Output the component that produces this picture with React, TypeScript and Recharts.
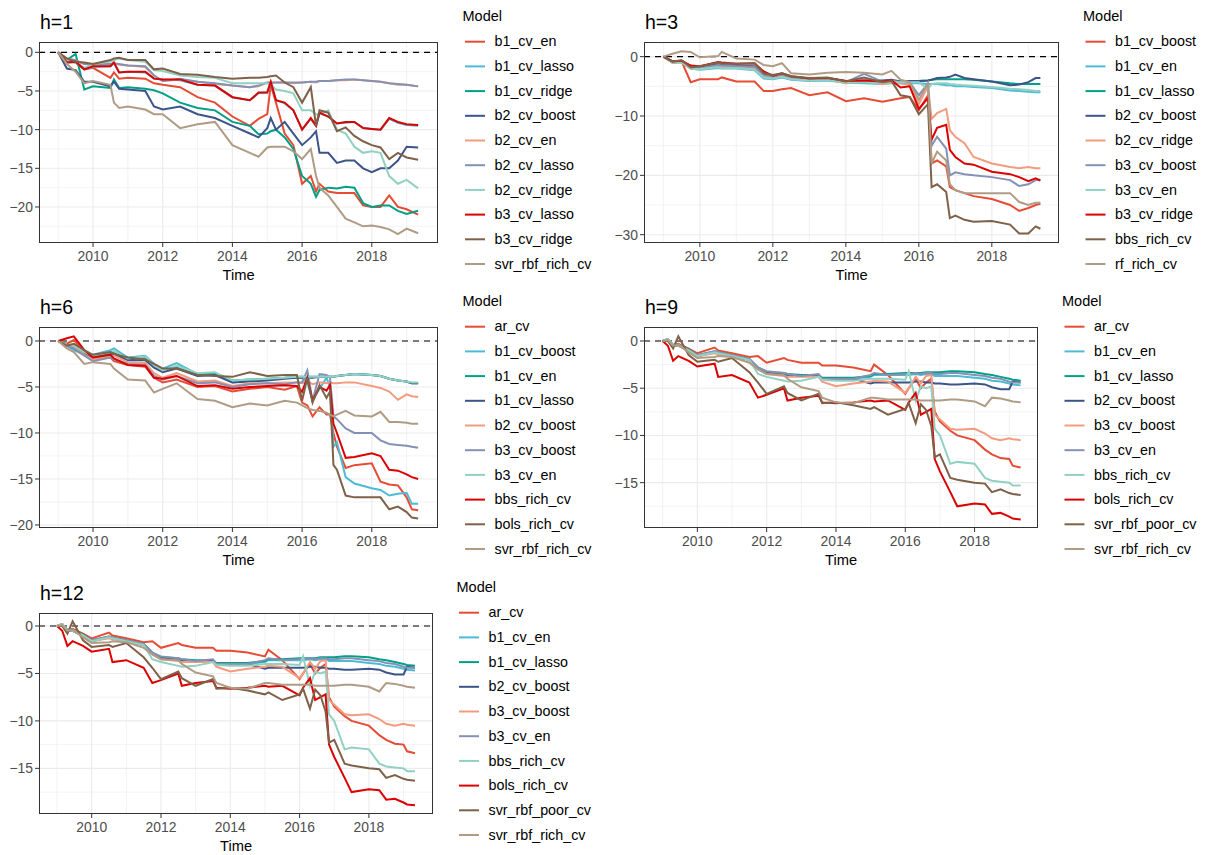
import { LineChart, Line, XAxis, YAxis, CartesianGrid, ReferenceLine } from "recharts";

const FONT = '"Liberation Sans", Arial, Helvetica, sans-serif';

// ggsci npg palette, legend order
const PALETTE = ["#E64B35", "#4DBBD5", "#00A087", "#3C5488", "#F39B7F", "#8491B4", "#91D1C2", "#DC0000", "#7E6148", "#B09C85"];

const X_TICKS = [2010, 2012, 2014, 2016, 2018];
const X_MINOR = [2009, 2011, 2013, 2015, 2017, 2019];

// ---------- h=1 ----------
const h1Times = [2009.0, 2009.25, 2009.5, 2009.75, 2010.0, 2010.5, 2010.6, 2010.75, 2011.0, 2011.5, 2011.75, 2012.0, 2012.5, 2013.0, 2013.5, 2014.0, 2014.5, 2014.75, 2015.0, 2015.1, 2015.25, 2015.5, 2015.75, 2016.0, 2016.25, 2016.4, 2016.5, 2016.75, 2017.0, 2017.25, 2017.5, 2017.75, 2018.0, 2018.25, 2018.5, 2018.75, 2019.0, 2019.33];
const h1Models = ["b1_cv_en", "b1_cv_lasso", "b1_cv_ridge", "b2_cv_boost", "b2_cv_en", "b2_cv_lasso", "b2_cv_ridge", "b3_cv_lasso", "b3_cv_ridge", "svr_rbf_rich_cv"];
const h1_b1_cv_en = [0, -1.0, -1.3, -2.2, -2.0, -3.3, -2.6, -3.4, -3.3, -3.4, -4.0, -4.2, -4.5, -5.8, -6.5, -8.3, -9.5, -8.6, -8.0, -4.2, -6.5, -10.5, -12.0, -17.0, -16.0, -18.0, -17.0, -18.0, -18.2, -18.2, -18.2, -19.8, -20.0, -20.0, -18.5, -20.0, -20.3, -21.0];
const h1_b1_cv_lasso = [0, -1.3, -1.3, -2.2, -1.9, -1.8, -1.4, -2.6, -2.5, -2.6, -3.4, -3.5, -3.6, -4.2, -4.3, -5.8, -6.2, -5.3, -5.2, -3.9, -6.2, -6.6, -7.5, -10.0, -8.6, -9.5, -7.9, -8.3, -9.2, -9.1, -9.0, -9.8, -9.9, -10.0, -8.6, -9.1, -9.4, -9.5];
const h1_b1_cv_ridge = [0, -1.0, -0.2, -4.8, -4.4, -4.6, -3.5, -4.6, -4.5, -4.7, -4.9, -5.3, -6.5, -7.2, -7.5, -9.0, -9.5, -10.6, -10.5, -10.2, -10.0, -11.0, -12.5, -16.0, -17.0, -18.7, -17.8, -17.5, -17.6, -17.4, -17.5, -19.5, -20.0, -19.8, -19.8, -20.5, -20.9, -20.5];
const h1_b2_cv_boost = [0, -2.1, -2.3, -3.8, -3.8, -4.4, -3.8, -4.7, -4.8, -5.0, -7.0, -7.4, -7.0, -8.0, -8.5, -9.5, -10.5, -11.0, -9.8, -8.5, -10.0, -9.0, -10.5, -12.0, -11.0, -10.2, -13.0, -13.0, -14.3, -14.0, -14.0, -15.0, -15.5, -15.0, -15.0, -14.0, -12.2, -12.3];
const h1_b2_cv_en = [0, -0.9, -1.1, -1.5, -1.6, -1.5, -1.4, -1.6, -1.7, -1.9, -3.0, -3.7, -3.5, -3.8, -4.1, -4.3, -4.5, -4.4, -3.9, -4.0, -3.9, -3.9, -4.0, -3.9, -3.8, -3.9, -3.7, -3.7, -3.6, -3.6, -3.5, -3.6, -3.7, -3.8, -4.0, -4.2, -4.2, -4.4];
const h1_b2_cv_lasso = [0, -0.8, -1.0, -1.5, -1.5, -1.5, -1.4, -1.5, -1.7, -1.8, -3.0, -3.7, -3.4, -3.8, -4.0, -4.3, -4.5, -4.3, -3.9, -3.9, -3.9, -3.9, -3.9, -3.9, -3.8, -3.8, -3.7, -3.7, -3.6, -3.5, -3.5, -3.6, -3.7, -3.8, -4.0, -4.1, -4.2, -4.4];
const h1_b2_cv_ridge = [0, -1.0, -1.3, -2.0, -1.5, -1.2, -1.0, -0.8, -1.0, -1.2, -2.3, -2.4, -3.0, -3.2, -3.3, -4.0, -4.0, -4.0, -4.0, -4.2, -4.8, -5.0, -5.3, -7.5, -7.5, -8.0, -8.0, -7.5, -10.0, -10.5, -12.2, -13.0, -12.8, -13.0, -16.0, -17.0, -16.5, -17.6];
const h1_b3_cv_lasso = [0, -1.3, -1.2, -2.2, -1.8, -1.8, -1.3, -2.6, -2.5, -2.5, -3.4, -3.5, -3.5, -4.2, -4.3, -5.8, -6.2, -5.2, -5.2, -3.8, -6.2, -6.5, -7.5, -10.0, -8.5, -9.5, -7.8, -8.3, -9.2, -9.0, -9.0, -9.8, -9.9, -10.0, -8.5, -9.0, -9.3, -9.4];
const h1_b3_cv_ridge = [0, -0.8, -1.2, -1.3, -1.5, -1.0, -0.8, -0.7, -1.0, -1.0, -2.2, -2.1, -2.8, -2.9, -3.2, -3.4, -3.3, -3.3, -3.2, -3.1, -3.0, -3.9, -4.5, -6.5, -4.5, -9.5, -7.5, -7.8, -10.2, -9.7, -10.8, -11.5, -12.0, -12.3, -13.8, -13.0, -13.6, -13.9];
const h1_svr_rbf_rich_cv = [0, -1.5, -2.5, -4.0, -3.7, -4.2, -6.5, -7.2, -7.0, -7.4, -8.0, -8.0, -9.8, -9.3, -9.0, -12.0, -13.0, -13.5, -12.3, -12.2, -12.2, -12.2, -12.8, -13.8, -12.5, -16.0, -17.5, -18.5, -20.0, -21.5, -22.0, -22.5, -22.4, -22.6, -22.9, -23.5, -22.8, -23.4];

// ---------- h=3 ----------
const h3Times = [2009.0, 2009.25, 2009.5, 2009.75, 2010.0, 2010.5, 2010.6, 2011.0, 2011.5, 2011.75, 2012.0, 2012.25, 2012.5, 2013.0, 2013.5, 2014.0, 2014.5, 2015.0, 2015.25, 2015.5, 2015.75, 2016.0, 2016.25, 2016.35, 2016.5, 2016.75, 2016.85, 2017.0, 2017.25, 2017.5, 2018.0, 2018.5, 2018.75, 2019.0, 2019.2, 2019.33];
const h3Models = ["b1_cv_boost", "b1_cv_en", "b1_cv_lasso", "b2_cv_boost", "b2_cv_ridge", "b3_cv_boost", "b3_cv_en", "b3_cv_ridge", "bbs_rich_cv", "rf_rich_cv"];
const h3_b1_cv_boost = [0, -1.0, -0.8, -4.3, -3.8, -3.8, -3.5, -4.2, -4.2, -5.8, -5.8, -5.5, -5.3, -6.5, -6.0, -7.5, -7.0, -7.6, -7.3, -7.0, -6.8, -9.0, -6.5, -18.0, -17.5, -18.5, -22.0, -22.5, -23.0, -23.5, -24.0, -25.0, -26.0, -25.5, -25.0, -24.8];
const h3_b1_cv_en = [0, -1.0, -1.0, -2.0, -2.2, -1.9, -2.0, -2.0, -2.3, -3.7, -3.8, -3.5, -3.9, -4.1, -4.0, -4.4, -4.5, -4.6, -4.5, -4.5, -4.5, -4.5, -4.6, -4.6, -4.6, -4.8, -4.8, -5.0, -5.0, -5.1, -5.3, -5.7, -5.8, -5.9, -6.0, -6.0];
const h3_b1_cv_lasso = [0, -0.9, -0.8, -1.8, -2.0, -1.7, -1.8, -1.8, -2.0, -3.3, -3.5, -3.2, -3.6, -3.9, -3.8, -4.2, -4.1, -4.2, -4.1, -4.1, -4.1, -4.1, -4.0, -3.9, -3.8, -3.8, -3.8, -3.8, -3.8, -3.9, -4.2, -4.5, -4.6, -4.6, -4.6, -4.6];
const h3_b2_cv_boost = [0, -0.8, -0.7, -1.6, -1.8, -1.3, -1.4, -1.5, -1.6, -3.0, -3.3, -3.0, -3.4, -3.7, -3.6, -4.1, -4.0, -4.0, -3.9, -4.2, -4.1, -4.1, -4.0, -3.9, -3.6, -3.5, -3.4, -3.0, -3.6, -3.8, -4.2, -4.8, -4.7, -4.3, -3.6, -3.6];
const h3_b2_cv_ridge = [0, -1.0, -1.0, -2.0, -2.0, -1.6, -1.6, -1.8, -2.0, -3.3, -3.5, -3.2, -3.6, -3.9, -3.8, -4.5, -4.2, -4.6, -4.4, -4.5, -4.8, -8.0, -5.0, -10.5, -9.5, -8.8, -12.4, -13.5, -14.6, -16.9, -18.0, -18.6, -18.8, -18.6, -18.8, -18.8];
const h3_b3_cv_boost = [0, -0.8, -0.7, -1.7, -1.9, -1.4, -1.5, -1.6, -1.7, -3.1, -3.4, -3.1, -3.5, -3.8, -3.7, -4.3, -2.9, -4.2, -4.0, -4.3, -4.3, -6.5, -4.5, -15.0, -13.5, -15.5, -20.0, -19.5, -19.8, -20.0, -20.3, -20.8, -21.8, -21.5, -20.8, -20.7];
const h3_b3_cv_en = [0, -1.0, -0.9, -1.9, -2.1, -1.8, -1.9, -1.9, -2.2, -3.5, -3.7, -3.4, -3.8, -4.0, -3.9, -4.3, -4.3, -4.4, -4.3, -4.3, -4.3, -4.3, -5.5, -4.6, -4.5, -4.5, -4.6, -4.7, -4.8, -4.9, -5.1, -5.4, -5.5, -5.6, -5.8, -5.8];
const h3_b3_cv_ridge = [0, -0.8, -0.7, -1.5, -1.6, -0.9, -1.0, -1.2, -1.1, -2.5, -3.2, -2.8, -3.3, -3.7, -3.6, -4.1, -4.0, -4.2, -4.0, -5.2, -5.0, -8.8, -7.0, -14.0, -12.0, -11.5, -15.7, -16.9, -18.0, -18.2, -19.4, -19.8, -20.3, -21.0, -20.5, -20.9];
const h3_bbs_rich_cv = [0, -0.8, -0.6, -1.8, -1.6, -1.0, -1.1, -1.2, -1.1, -2.8, -3.1, -2.8, -3.3, -3.6, -3.5, -4.2, -3.5, -4.3, -4.1, -6.5, -6.8, -9.7, -8.0, -22.0, -21.5, -22.8, -27.2, -26.8, -27.5, -27.8, -27.7, -28.3, -29.8, -29.8, -28.6, -29.0];
const h3_rf_rich_cv = [0, 0.5, 0.9, 0.8, -0.1, 0.1, 0.8, -0.3, -0.5, -1.4, -1.6, -1.1, -2.8, -3.0, -2.7, -2.6, -2.7, -3.0, -2.4, -3.9, -4.3, -7.3, -4.5, -18.0, -16.0, -17.5, -21.5, -22.5, -23.0, -23.0, -23.0, -23.0, -24.5, -25.0, -24.6, -24.6];

// ---------- h=6 ----------
const h6Times = [2009.0, 2009.25, 2009.45, 2009.75, 2010.0, 2010.5, 2010.6, 2011.0, 2011.5, 2011.75, 2012.0, 2012.4, 2013.0, 2013.5, 2014.0, 2014.5, 2015.0, 2015.5, 2015.85, 2016.0, 2016.15, 2016.3, 2016.5, 2016.7, 2016.8, 2016.9, 2017.0, 2017.25, 2017.5, 2018.0, 2018.25, 2018.5, 2018.75, 2019.0, 2019.15, 2019.33];
const h6Models = ["ar_cv", "b1_cv_boost", "b1_cv_en", "b1_cv_lasso", "b2_cv_boost", "b3_cv_boost", "b3_cv_en", "bbs_rich_cv", "bols_rich_cv", "svr_rbf_rich_cv"];
const h6_ar_cv = [0, -0.3, 0.1, -1.2, -2.0, -1.8, -2.2, -2.6, -2.8, -4.0, -4.5, -4.2, -5.0, -4.9, -5.5, -5.2, -5.0, -5.3, -4.9, -6.7, -7.0, -8.2, -7.2, -8.0, -8.0, -10.0, -11.5, -13.8, -13.5, -13.3, -15.3, -15.6, -15.7, -17.0, -18.3, -18.4];
const h6_b1_cv_boost = [0, -0.5, -1.0, -1.5, -1.5, -1.0, -0.8, -1.8, -1.6, -2.5, -3.0, -2.4, -3.6, -3.5, -4.5, -4.3, -4.2, -4.0, -4.0, -4.0, -4.5, -6.5, -5.2, -4.0, -5.0, -11.5, -11.0, -14.8, -15.5, -16.0, -16.2, -16.8, -16.6, -16.5, -17.7, -17.7];
const h6_b1_cv_en = [0, -0.4, -0.6, -1.3, -1.7, -1.3, -1.2, -2.0, -1.8, -2.6, -3.2, -2.8, -3.6, -3.5, -4.3, -4.2, -4.1, -4.0, -3.9, -3.9, -3.9, -3.9, -3.9, -3.9, -3.9, -3.9, -3.8, -3.7, -3.6, -3.7, -3.8, -4.1, -4.3, -4.4, -4.6, -4.6];
const h6_b1_cv_lasso = [0, -0.5, -0.8, -1.5, -1.9, -1.5, -1.4, -2.1, -2.1, -2.9, -3.4, -3.0, -3.8, -3.7, -4.5, -4.4, -4.3, -4.1, -4.0, -4.0, -4.0, -4.0, -3.9, -3.9, -3.9, -3.9, -3.8, -3.7, -3.6, -3.7, -3.8, -4.1, -4.3, -4.4, -4.6, -4.6];
const h6_b2_cv_boost = [0, -0.5, -0.7, -1.5, -2.0, -1.6, -1.6, -2.3, -2.4, -3.5, -4.0, -3.5, -4.4, -4.3, -4.9, -4.6, -4.6, -4.5, -4.5, -4.6, -4.4, -4.7, -4.5, -4.6, -4.5, -4.6, -4.6, -4.5, -4.5, -4.9, -5.1, -5.5, -6.4, -5.8, -6.0, -6.1];
const h6_b3_cv_boost = [0, -0.5, -0.8, -1.6, -2.2, -1.8, -2.0, -2.5, -2.6, -3.8, -4.2, -3.8, -4.6, -4.5, -5.0, -4.7, -4.6, -4.7, -4.5, -4.5, -3.2, -6.5, -3.6, -3.7, -4.0, -8.2, -8.5, -9.5, -10.0, -10.0, -10.8, -11.2, -11.3, -11.4, -11.5, -11.6];
const h6_b3_cv_en = [0, -0.4, -0.5, -1.2, -1.6, -1.2, -1.1, -1.9, -1.7, -2.6, -3.2, -2.7, -3.5, -3.4, -4.3, -4.2, -4.1, -4.0, -3.9, -3.9, -3.9, -3.9, -3.9, -3.9, -3.9, -3.9, -3.8, -3.7, -3.6, -3.7, -3.8, -4.1, -4.3, -4.4, -4.5, -4.5];
const h6_bbs_rich_cv = [0, 0.3, 0.5, -1.0, -1.8, -1.5, -1.9, -2.6, -2.7, -4.0, -4.1, -3.8, -4.9, -4.8, -5.2, -5.0, -4.9, -4.8, -4.9, -5.5, -4.0, -6.5, -5.0, -5.4, -4.8, -9.0, -10.0, -12.7, -12.6, -12.2, -12.5, -14.0, -14.1, -14.5, -14.8, -15.0];
const h6_bols_rich_cv = [0, -0.5, -0.3, -1.0, -1.5, -1.2, -1.4, -1.8, -2.0, -2.5, -3.0, -3.0, -3.7, -3.8, -3.9, -3.4, -3.8, -3.7, -3.7, -6.5, -4.0, -6.7, -4.8, -6.2, -5.5, -13.5, -14.0, -16.8, -17.0, -17.0, -17.0, -18.3, -18.0, -18.6, -19.2, -19.3];
const h6_svr_rbf_rich_cv = [0, -0.8, -1.2, -2.5, -2.3, -2.5, -3.0, -4.2, -4.3, -5.6, -5.2, -4.6, -6.3, -6.5, -7.2, -6.8, -7.0, -6.5, -6.7, -7.0, -7.3, -7.5, -7.6, -7.8, -8.0, -8.2, -8.0, -7.6, -8.1, -8.2, -7.7, -8.8, -8.8, -8.9, -9.0, -9.0];

// ---------- h=9 (h=12 draws the same curves) ----------
const h9Times = [2009.0, 2009.15, 2009.3, 2009.45, 2009.75, 2010.0, 2010.5, 2010.6, 2011.0, 2011.5, 2011.75, 2012.0, 2012.5, 2012.6, 2013.0, 2013.5, 2013.6, 2014.0, 2014.5, 2015.0, 2015.1, 2015.5, 2016.0, 2016.1, 2016.3, 2016.45, 2016.6, 2016.75, 2016.85, 2017.0, 2017.3, 2017.5, 2018.0, 2018.3, 2018.5, 2018.75, 2019.0, 2019.1, 2019.33];
const h9Models = ["ar_cv", "b1_cv_en", "b1_cv_lasso", "b2_cv_boost", "b3_cv_boost", "b3_cv_en", "bbs_rich_cv", "bols_rich_cv", "svr_rbf_poor_cv", "svr_rbf_rich_cv"];
const h9_ar_cv = [0, 0, -0.5, -0.3, -0.8, -1.3, -0.7, -1.0, -1.3, -1.7, -1.6, -2.3, -1.8, -2.0, -2.3, -2.3, -2.6, -2.6, -2.8, -3.2, -2.5, -3.6, -5.6, -5.0, -4.0, -5.0, -4.4, -4.0, -7.5, -8.5, -9.5, -10.0, -10.5, -11.5, -12.0, -12.4, -12.5, -13.2, -13.4];
const h9_b1_cv_en = [0, 0.2, -0.5, -0.5, -1.0, -1.6, -1.2, -1.3, -1.6, -2.0, -2.9, -3.4, -3.5, -3.6, -3.7, -3.7, -4.0, -4.0, -4.0, -3.8, -3.6, -3.6, -3.6, -3.6, -3.5, -3.6, -3.5, -3.5, -3.7, -3.7, -3.7, -3.7, -3.9, -4.0, -4.2, -4.3, -4.5, -4.6, -4.7];
const h9_b1_cv_lasso = [0, 0.2, -0.4, -0.4, -0.9, -1.5, -1.1, -1.2, -1.5, -1.9, -2.8, -3.3, -3.4, -3.5, -3.6, -3.6, -3.9, -3.9, -3.9, -3.7, -3.5, -3.5, -3.4, -3.4, -3.4, -3.4, -3.3, -3.3, -3.3, -3.3, -3.2, -3.2, -3.3, -3.5, -3.6, -3.8, -4.0, -4.1, -4.2];
const h9_b2_cv_boost = [0, 0.2, -0.5, -0.5, -1.0, -1.6, -1.2, -1.3, -1.6, -2.0, -2.9, -3.4, -3.5, -3.6, -3.7, -3.7, -4.0, -4.0, -4.0, -4.5, -4.4, -4.4, -4.4, -4.4, -4.3, -4.3, -4.4, -4.4, -4.5, -4.5, -4.6, -4.6, -4.5, -4.6, -4.9, -5.1, -5.1, -4.3, -4.4];
const h9_b3_cv_boost = [0, 0.2, -0.5, -0.4, -1.0, -1.6, -1.3, -1.4, -1.6, -2.0, -3.0, -3.5, -3.7, -3.8, -3.8, -3.8, -4.3, -4.8, -4.5, -4.3, -4.2, -4.3, -5.5, -5.0, -3.8, -4.5, -3.7, -3.6, -7.8, -8.3, -9.3, -9.4, -9.3, -9.8, -10.3, -10.5, -10.3, -10.4, -10.5];
const h9_b3_cv_en = [0, 0.2, -0.5, -0.5, -1.0, -1.5, -1.1, -1.2, -1.5, -1.9, -2.8, -3.2, -3.4, -3.5, -3.7, -3.5, -4.0, -4.0, -4.0, -3.6, -3.4, -3.6, -3.5, -3.5, -3.4, -3.5, -3.4, -3.4, -3.5, -3.5, -3.4, -3.4, -3.6, -3.7, -3.9, -4.0, -4.3, -4.4, -4.4];
const h9_bbs_rich_cv = [0, 0.2, -0.4, -0.5, -1.0, -1.6, -1.2, -1.3, -1.6, -2.0, -3.5, -3.8, -4.2, -4.3, -4.2, -3.8, -4.1, -4.2, -4.2, -4.0, -4.0, -4.0, -4.1, -3.2, -6.3, -4.8, -5.0, -4.8, -9.3, -10.0, -13.0, -12.8, -13.0, -14.5, -14.8, -14.9, -15.0, -15.3, -15.3];
const h9_bols_rich_cv = [0, -0.5, -2.1, -1.6, -2.1, -2.7, -2.4, -3.8, -3.6, -4.4, -6.0, -5.7, -5.0, -6.3, -6.0, -5.8, -6.5, -6.6, -6.5, -6.3, -6.4, -6.3, -7.3, -6.5, -5.5, -7.8, -7.5, -7.2, -12.5, -13.8, -16.0, -17.5, -17.2, -17.3, -18.3, -18.2, -18.6, -18.8, -18.9];
const h9_svr_rbf_poor_cv = [0, 0, -0.8, 0.5, -1.5, -2.2, -2.0, -2.2, -1.8, -3.3, -4.4, -5.6, -4.8, -5.5, -6.3, -5.6, -6.6, -6.5, -6.8, -7.2, -7.0, -7.8, -7.2, -6.6, -8.7, -6.7, -7.3, -9.0, -12.3, -12.0, -14.5, -14.7, -15.0, -15.1, -16.0, -15.7, -16.1, -16.2, -16.3];
const h9_svr_rbf_rich_cv = [0, 0.1, -0.5, -0.4, -1.2, -1.8, -1.7, -1.6, -1.7, -2.3, -3.0, -3.5, -3.6, -4.0, -4.9, -5.3, -6.0, -6.5, -6.6, -6.0, -6.0, -6.2, -6.2, -6.2, -6.2, -6.3, -6.3, -6.3, -6.3, -6.3, -6.2, -6.2, -6.4, -6.9, -6.0, -6.1, -6.3, -6.4, -6.5];

const h1Values = [h1_b1_cv_en, h1_b1_cv_lasso, h1_b1_cv_ridge, h1_b2_cv_boost, h1_b2_cv_en, h1_b2_cv_lasso, h1_b2_cv_ridge, h1_b3_cv_lasso, h1_b3_cv_ridge, h1_svr_rbf_rich_cv];
const h3Values = [h3_b1_cv_boost, h3_b1_cv_en, h3_b1_cv_lasso, h3_b2_cv_boost, h3_b2_cv_ridge, h3_b3_cv_boost, h3_b3_cv_en, h3_b3_cv_ridge, h3_bbs_rich_cv, h3_rf_rich_cv];
const h6Values = [h6_ar_cv, h6_b1_cv_boost, h6_b1_cv_en, h6_b1_cv_lasso, h6_b2_cv_boost, h6_b3_cv_boost, h6_b3_cv_en, h6_bbs_rich_cv, h6_bols_rich_cv, h6_svr_rbf_rich_cv];
const h9Values = [h9_ar_cv, h9_b1_cv_en, h9_b1_cv_lasso, h9_b2_cv_boost, h9_b3_cv_boost, h9_b3_cv_en, h9_bbs_rich_cv, h9_bols_rich_cv, h9_svr_rbf_poor_cv, h9_svr_rbf_rich_cv];

const panels = [
  { title: "h=1", times: h1Times, models: h1Models, values: h1Values,
    plot: { x: 39, y: 42, w: 399, h: 201 }, xDomain: [2008.45, 2019.9], yDomain: [-24.66, 1.34],
    yTicks: [-20, -15, -10, -5, 0], yMinor: [-22.5, -17.5, -12.5, -7.5, -2.5], legendX: 462.5 },
  { title: "h=3", times: h3Times, models: h3Models, values: h3Values,
    plot: { x: 644, y: 42, w: 415, h: 201 }, xDomain: [2008.47, 2019.84], yDomain: [-31.4, 2.47],
    yTicks: [-30, -20, -10, 0], yMinor: [-25, -15, -5], legendX: 1083 },
  { title: "h=6", times: h6Times, models: h6Models, values: h6Values,
    plot: { x: 39, y: 327, w: 399, h: 201 }, xDomain: [2008.45, 2019.9], yDomain: [-20.33, 1.52],
    yTicks: [-20, -15, -10, -5, 0], yMinor: [-17.5, -12.5, -7.5, -2.5], legendX: 462.5 },
  { title: "h=9", times: h9Times, models: h9Models, values: h9Values,
    plot: { x: 644, y: 327, w: 394, h: 201 }, xDomain: [2008.46, 2019.83], yDomain: [-19.8, 1.48],
    yTicks: [-15, -10, -5, 0], yMinor: [-17.5, -12.5, -7.5, -2.5], legendX: 1062 },
  { title: "h=12", times: h9Times, models: h9Models, values: h9Values,
    plot: { x: 39, y: 613, w: 394, h: 201 }, xDomain: [2008.48, 2019.85], yDomain: [-19.81, 1.37],
    yTicks: [-15, -10, -5, 0], yMinor: [-17.5, -12.5, -7.5, -2.5], legendX: 456.5 },
];

const YW = 50;
const XH = 30;

const fmt = (v: number) => (v < 0 ? "\u2212" + Math.abs(v) : String(v));

function Panel({ p }: { p: any }) {
  const data = p.times.map((t: number, i: number) => {
    const row: any = { t };
    p.models.forEach((m: string, k: number) => {
      row[m] = p.values[k][i];
    });
    return row;
  });
  const tickStyle = { fill: "#4D4D4D", fontSize: 13.9, fontFamily: FONT };
  return (
    <div style={{ position: "absolute", left: p.plot.x - YW, top: p.plot.y }}>
      <LineChart width={YW + p.plot.w} height={p.plot.h + XH} data={data} margin={{ top: 0, right: 0, bottom: 0, left: 0 }}>
        <CartesianGrid horizontalValues={p.yMinor} verticalValues={X_MINOR} stroke="#EBEBEB" strokeWidth={0.6} />
        <CartesianGrid horizontalValues={p.yTicks} verticalValues={X_TICKS} stroke="#EBEBEB" strokeWidth={1.1} />
        <XAxis dataKey="t" type="number" domain={p.xDomain} ticks={X_TICKS} allowDataOverflow height={XH}
          axisLine={false} tickSize={4} tickMargin={4} tickLine={{ stroke: "#333333" }} tick={tickStyle} />
        <YAxis type="number" domain={p.yDomain} ticks={p.yTicks} allowDataOverflow width={YW}
          axisLine={false} tickSize={4} tickMargin={2} tickLine={{ stroke: "#333333" }} tick={tickStyle} tickFormatter={fmt} />
        <ReferenceLine y={0} stroke="#000000" strokeWidth={1.2} strokeDasharray="6 5" />
        {p.models.map((m: string, k: number) => (
          <Line key={m} dataKey={m} type="linear" stroke={PALETTE[k]} strokeWidth={2} dot={false}
            activeDot={false} isAnimationActive={false} />
        ))}
      </LineChart>
      <div style={{ position: "absolute", left: YW, top: 0, width: p.plot.w, height: p.plot.h,
        border: "1px solid #333333", boxSizing: "border-box", pointerEvents: "none" }} />
    </div>
  );
}

function Labels() {
  return (
    <svg width={1208} height={855} style={{ position: "absolute", left: 0, top: 0, pointerEvents: "none" }} fontFamily={FONT}>
      {panels.map((p) => {
        const legendTop = p.plot.y - 21.3;
        return (
          <g key={p.title}>
            <text x={p.plot.x + 1} y={p.plot.y - 12.7} fontSize={19.5} fill="#000">{p.title}</text>
            <text x={p.plot.x + p.plot.w / 2} y={p.plot.y + p.plot.h + 37} fontSize={14.7} fill="#000" textAnchor="middle">Time</text>
            <text x={p.legendX} y={legendTop} fontSize={14.5} fill="#000">Model</text>
            {p.models.map((m: string, k: number) => {
              const cy = legendTop + 21 + k * 24.7;
              return (
                <g key={m}>
                  <line x1={p.legendX + 2.5} x2={p.legendX + 22.5} y1={cy} y2={cy} stroke={PALETTE[k]} strokeWidth={2} />
                  <text x={p.legendX + 32} y={cy + 4.6} fontSize={14.3} fill="#000">{m}</text>
                </g>
              );
            })}
          </g>
        );
      })}
    </svg>
  );
}

export default function App() {
  return (
    <div style={{ position: "absolute", left: 0, top: 0, width: 1208, height: 855, background: "#fff" }}>
      {panels.map((p) => (
        <Panel key={p.title} p={p} />
      ))}
      <Labels />
    </div>
  );
}
